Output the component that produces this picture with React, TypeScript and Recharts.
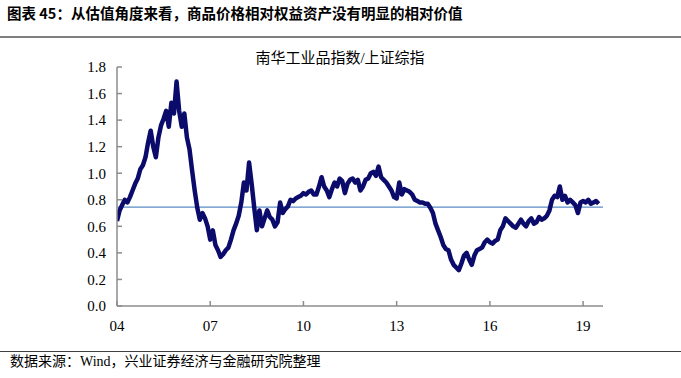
import { LineChart, Line, XAxis, YAxis, ReferenceLine } from "recharts";

// 南华工业品指数 / 上证综指, monthly readings (Jan..Dec) per year
const y2004 = [0.64, 0.72, 0.76, 0.8, 0.78, 0.82, 0.87, 0.92, 0.96, 1.03, 1.06, 1.12];
const y2005 = [1.23, 1.32, 1.2, 1.12, 1.27, 1.36, 1.41, 1.47, 1.35, 1.53, 1.45, 1.69];
const y2006 = [1.47, 1.35, 1.45, 1.27, 1.18, 1.02, 0.87, 0.74, 0.65, 0.7, 0.66, 0.6];
const y2007 = [0.5, 0.57, 0.46, 0.42, 0.37, 0.39, 0.42, 0.44, 0.5, 0.57, 0.62, 0.68];
const y2008 = [0.78, 0.93, 0.87, 1.08, 0.92, 0.74, 0.57, 0.72, 0.6, 0.66, 0.72, 0.67];
const y2009 = [0.65, 0.6, 0.63, 0.78, 0.7, 0.73, 0.75, 0.8, 0.79, 0.81, 0.82, 0.83];
const y2010 = [0.85, 0.84, 0.86, 0.87, 0.84, 0.84, 0.9, 0.97, 0.9, 0.87, 0.82, 0.88];
const y2011 = [0.93, 0.9, 0.96, 0.94, 0.85, 0.92, 0.95, 0.96, 0.93, 0.95, 0.87, 0.9];
const y2012 = [0.95, 0.96, 1.0, 1.01, 0.98, 1.05, 0.97, 0.95, 0.93, 0.9, 0.87, 0.82];
const y2013 = [0.81, 0.93, 0.84, 0.88, 0.87, 0.86, 0.84, 0.8, 0.79, 0.78, 0.78, 0.77];
const y2014 = [0.77, 0.74, 0.7, 0.62, 0.57, 0.52, 0.46, 0.43, 0.42, 0.35, 0.31, 0.29];
const y2015 = [0.27, 0.32, 0.38, 0.4, 0.35, 0.31, 0.38, 0.42, 0.43, 0.44, 0.48, 0.5];
const y2016 = [0.48, 0.47, 0.49, 0.5, 0.57, 0.6, 0.66, 0.64, 0.62, 0.6, 0.59, 0.62];
const y2017 = [0.65, 0.62, 0.6, 0.64, 0.66, 0.62, 0.63, 0.67, 0.65, 0.66, 0.68, 0.72];
const y2018 = [0.8, 0.83, 0.82, 0.9, 0.8, 0.83, 0.78, 0.8, 0.78, 0.76, 0.7, 0.78];
const y2019 = [0.79, 0.78, 0.8, 0.77, 0.78, 0.79, 0.77];

const ratio = [
  ...y2004, ...y2005, ...y2006, ...y2007, ...y2008, ...y2009, ...y2010, ...y2011,
  ...y2012, ...y2013, ...y2014, ...y2015, ...y2016, ...y2017, ...y2018, ...y2019,
];

const average = 0.745;
const yearTicks = [2004, 2007, 2010, 2013, 2016, 2019];
const valueTicks = [0, 0.2, 0.4, 0.6, 0.8, 1.0, 1.2, 1.4, 1.6, 1.8];

const data = ratio.map((v, i) => ({ t: 2004 + i / 12, v }));

const serif = '"Liberation Serif", "Times New Roman", "Noto Sans CJK SC", serif';
const axisGray = "#8c8c8c";

export default function App() {
  return (
    <div
      style={{
        position: "absolute",
        left: 0,
        top: 0,
        width: 681,
        height: 378,
        background: "#fff",
        overflow: "hidden",
      }}
    >
      <div
        style={{
          position: "absolute",
          left: 7,
          top: 3,
          fontFamily: '"Noto Sans CJK SC", sans-serif',
          fontWeight: 700,
          fontSize: 14.5,
          lineHeight: "20px",
          color: "#000",
          whiteSpace: "nowrap",
        }}
      >
        图表 45：从估值角度来看，商品价格相对权益资产没有明显的相对价值
      </div>
      <div style={{ position: "absolute", left: 0, top: 36, width: 681, height: 2, background: "#7f7f7f" }} />

      <div
        style={{
          position: "absolute",
          left: 0,
          width: 680,
          top: 48,
          textAlign: "center",
          fontFamily: serif,
          fontSize: 15,
          lineHeight: "20px",
          color: "#000",
        }}
      >
        南华工业品指数/上证综指
      </div>

      <div style={{ position: "absolute", left: 0, top: 0 }}>
        <LineChart width={681} height={378} data={data} margin={{ top: 67, right: 78, bottom: 42, left: 0 }}>
          <XAxis
            dataKey="t"
            type="number"
            domain={[2004, 2019.64]}
            ticks={yearTicks}
            tickFormatter={(t) => String(t).slice(2)}
            height={30}
            tickSize={-5}
            tickMargin={19}
            stroke={axisGray}
            strokeWidth={1.5}
            tick={{ fill: "#000", fontSize: 15, fontFamily: serif }}
            allowDataOverflow
          />
          <YAxis
            type="number"
            domain={[0, 1.8]}
            ticks={valueTicks}
            tickFormatter={(v) => v.toFixed(1)}
            width={117}
            tickSize={-5}
            tickMargin={16}
            stroke={axisGray}
            strokeWidth={1.5}
            tick={{ fill: "#000", fontSize: 15, fontFamily: serif }}
          />
          <ReferenceLine y={average} stroke="#5b8bc4" strokeWidth={1.3} />
          <Line
            type="linear"
            dataKey="v"
            stroke="#0b0b6b"
            strokeWidth={4.5}
            strokeLinejoin="round"
            dot={false}
            isAnimationActive={false}
          />
        </LineChart>
      </div>

      <div style={{ position: "absolute", left: 0, top: 351, width: 681, height: 1, background: "#404040" }} />
      <div
        style={{
          position: "absolute",
          left: 10,
          top: 353,
          fontFamily: serif,
          fontSize: 14,
          lineHeight: "17px",
          color: "#000",
          whiteSpace: "nowrap",
        }}
      >
        数据来源：Wind，兴业证券经济与金融研究院整理
      </div>
    </div>
  );
}
